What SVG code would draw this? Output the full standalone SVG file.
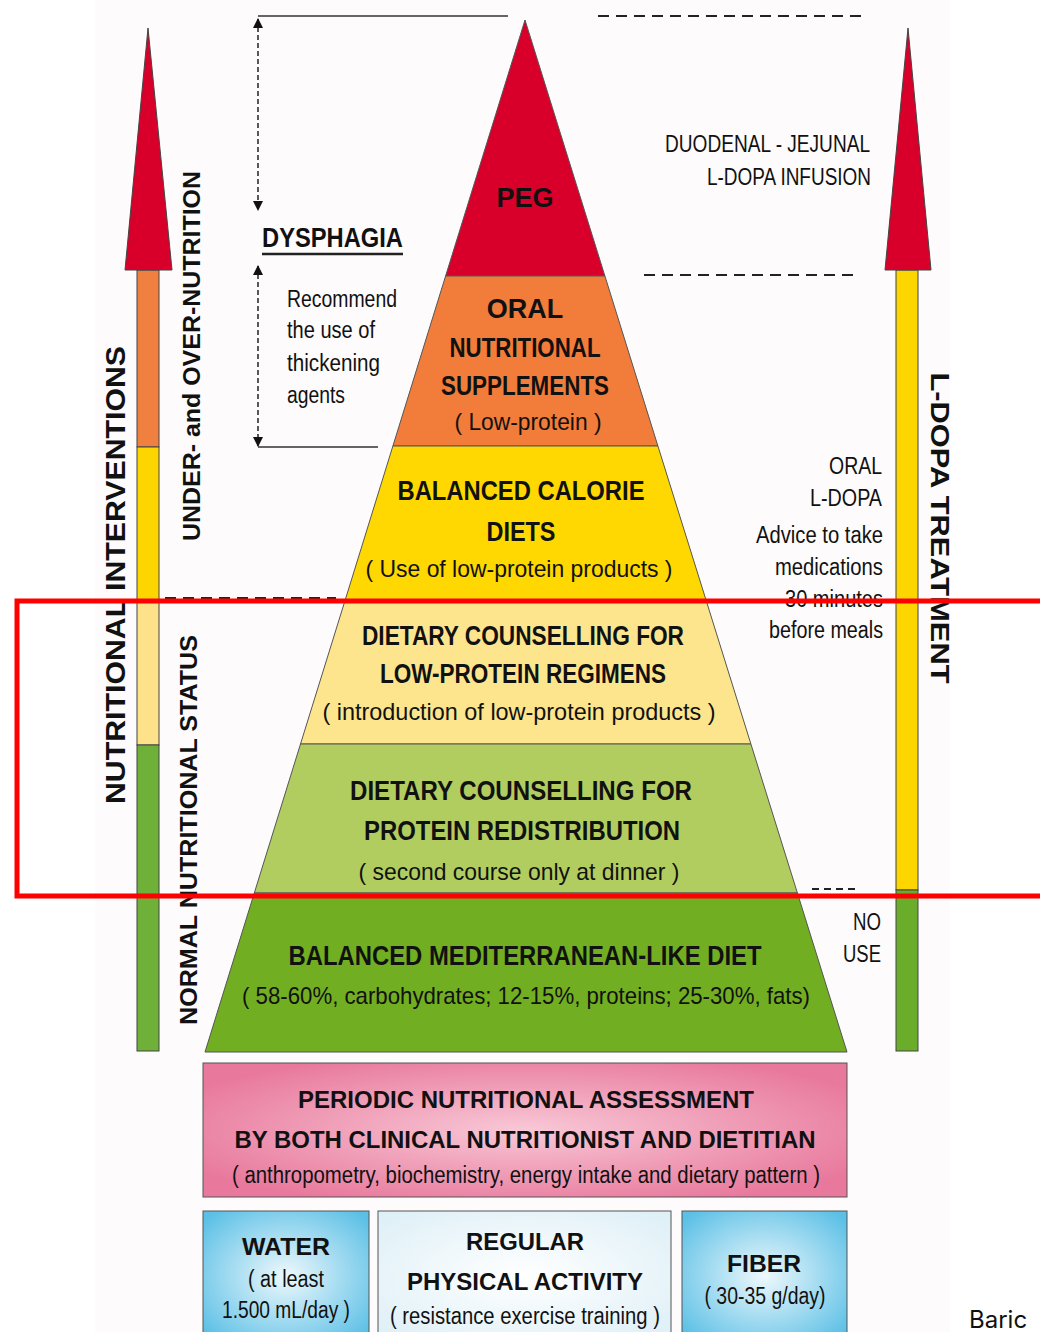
<svg xmlns="http://www.w3.org/2000/svg" width="1040" height="1332" viewBox="0 0 1040 1332">
<style>
.t{font-family:"Liberation Sans Narrow","Liberation Sans",Arial,sans-serif;fill:#111;}
.h{font-size:27px;font-weight:bold;}
.s{font-size:24px;}
.m{font-size:23px;}
.bb{font-weight:bold;}
.side{font-family:"Liberation Sans",Arial,sans-serif;font-weight:bold;fill:#111;}
.lay{stroke:#555;stroke-width:1;}
.dash{stroke:#222;stroke-width:2.2;stroke-dasharray:11 7;fill:none;}
.solid{stroke:#333;stroke-width:1.5;fill:none;}
.bar{stroke:#444;stroke-width:1;}
</style>
<defs>
<marker id="ah" viewBox="0 0 10 10" refX="9" refY="5" markerWidth="10" markerHeight="10" markerUnits="userSpaceOnUse" orient="auto-start-reverse">
<path d="M0,0 L10,5 L0,10 z" fill="#111"/>
</marker>
<radialGradient id="pink" cx="50%" cy="50%" r="60%">
<stop offset="0" stop-color="#f8c8d6"/>
<stop offset="1" stop-color="#e8789c"/>
</radialGradient>
<radialGradient id="blue" cx="50%" cy="50%" r="65%">
<stop offset="0" stop-color="#eef8fc"/>
<stop offset="1" stop-color="#5cc0e6"/>
</radialGradient>
<radialGradient id="pale" cx="50%" cy="50%" r="65%">
<stop offset="0" stop-color="#ffffff"/>
<stop offset="1" stop-color="#dff0f7"/>
</radialGradient>
</defs>
<rect x="0" y="0" width="1040" height="1332" fill="#ffffff"/>
<rect x="95" y="0" width="855" height="1332" fill="#fdfbfb"/>

<g id="left-arrow">
<rect class="bar" x="137" y="270" width="22" height="177" fill="#f08040"/>
<rect class="bar" x="137" y="447" width="22" height="153" fill="#fdd600"/>
<rect class="bar" x="137" y="600" width="22" height="145" fill="#fde28a"/>
<rect class="bar" x="137" y="745" width="22" height="306" fill="#6fb038"/>
<polygon class="bar" points="148,28 125,270 172,270" fill="#d8002a"/>
</g>
<g id="right-arrow">
<rect class="bar" x="896" y="270" width="22" height="620" fill="#fdd600"/>
<rect class="bar" x="896" y="890" width="22" height="161" fill="#6aad2a"/>
<polygon class="bar" points="908,28 885,270 931,270" fill="#d8002a"/>
</g>

<g id="side-labels">
<text class="side" font-size="28" text-anchor="middle" transform="translate(125,575) rotate(-90)" textLength="458" lengthAdjust="spacingAndGlyphs">NUTRITIONAL INTERVENTIONS</text>
<text class="side" font-size="24" text-anchor="middle" transform="translate(200,356) rotate(-90)" textLength="370" lengthAdjust="spacingAndGlyphs">UNDER- and OVER-NUTRITION</text>
<text class="side" font-size="24" text-anchor="middle" transform="translate(197,830) rotate(-90)" textLength="390" lengthAdjust="spacingAndGlyphs">NORMAL NUTRITIONAL STATUS</text>
<text class="side" font-size="26" text-anchor="middle" transform="translate(931,528) rotate(90)" textLength="311" lengthAdjust="spacingAndGlyphs">L-DOPA TREATMENT</text>
</g>

<g id="connectors">
<line class="solid" x1="258" y1="16" x2="508" y2="16"/>
<line class="solid" x1="258" y1="447" x2="378" y2="447"/>
<line x1="258" y1="19" x2="258" y2="210" stroke="#222" stroke-width="1.5" stroke-dasharray="5 3" marker-start="url(#ah)" marker-end="url(#ah)"/>
<line x1="258" y1="266" x2="258" y2="446" stroke="#222" stroke-width="1.5" stroke-dasharray="5 3" marker-start="url(#ah)" marker-end="url(#ah)"/>
<line class="dash" x1="598" y1="16" x2="866" y2="16"/>
<line class="dash" x1="644" y1="275" x2="860" y2="275"/>
<line class="dash" x1="165" y1="598" x2="336" y2="598"/>
<line x1="812" y1="889" x2="856" y2="889" stroke="#222" stroke-width="2.2" stroke-dasharray="7 5"/>
</g>

<g id="layer-peg">
<polygon class="lay" points="525,20 445.6,276 604.9,276" fill="#d8002a"/>
<text class="t h" x="525" y="207" text-anchor="middle">PEG</text>
</g>
<g id="layer-oral">
<polygon class="lay" points="445.6,276 604.9,276 657.9,446 392.9,446" fill="#f27c3a"/>
<text class="t h" x="525" y="318" text-anchor="middle">ORAL</text>
<text class="t h" x="525" y="357" text-anchor="middle" textLength="151" lengthAdjust="spacingAndGlyphs">NUTRITIONAL</text>
<text class="t h" x="525" y="395" text-anchor="middle" textLength="168" lengthAdjust="spacingAndGlyphs">SUPPLEMENTS</text>
<text class="t s" x="528" y="430" text-anchor="middle" textLength="147" lengthAdjust="spacingAndGlyphs">( Low-protein )</text>
</g>
<g id="layer-balanced">
<polygon class="lay" points="392.9,446 657.9,446 706,600 345.2,600" fill="#fed800"/>
<text class="t h" x="521" y="500" text-anchor="middle" textLength="247" lengthAdjust="spacingAndGlyphs">BALANCED CALORIE</text>
<text class="t h" x="521" y="541" text-anchor="middle" textLength="69" lengthAdjust="spacingAndGlyphs">DIETS</text>
<text class="t s" x="519" y="577" text-anchor="middle" textLength="307" lengthAdjust="spacingAndGlyphs">( Use of low-protein products )</text>
</g>
<g id="layer-lowprotein">
<polygon class="lay" points="345.2,600 706,600 750.9,744 300.5,744" fill="#fde58d"/>
<text class="t h" x="523" y="645" text-anchor="middle" textLength="322" lengthAdjust="spacingAndGlyphs">DIETARY COUNSELLING FOR</text>
<text class="t h" x="523" y="683" text-anchor="middle" textLength="286" lengthAdjust="spacingAndGlyphs">LOW-PROTEIN REGIMENS</text>
<text class="t s" x="519" y="720" text-anchor="middle" textLength="393" lengthAdjust="spacingAndGlyphs">( introduction of low-protein products )</text>
</g>
<g id="layer-redistribution">
<polygon class="lay" points="300.5,744 750.9,744 797.4,893 254.3,893" fill="#b2cd5f"/>
<text class="t h" x="521" y="800" text-anchor="middle" textLength="342" lengthAdjust="spacingAndGlyphs">DIETARY COUNSELLING FOR</text>
<text class="t h" x="522" y="840" text-anchor="middle" textLength="316" lengthAdjust="spacingAndGlyphs">PROTEIN REDISTRIBUTION</text>
<text class="t s" x="519" y="880" text-anchor="middle" textLength="321" lengthAdjust="spacingAndGlyphs">( second course only at dinner )</text>
</g>
<g id="layer-mediterranean">
<polygon class="lay" points="254.3,893 797.4,893 847,1052 205,1052" fill="#72ae21"/>
<text class="t h" x="525" y="965" text-anchor="middle" textLength="473" lengthAdjust="spacingAndGlyphs">BALANCED MEDITERRANEAN-LIKE DIET</text>
<text class="t s" x="526" y="1004" text-anchor="middle" textLength="568" lengthAdjust="spacingAndGlyphs">( 58-60%, carbohydrates; 12-15%, proteins; 25-30%, fats)</text>
</g>

<g id="assessment">
<rect x="203" y="1063" width="644" height="134" fill="url(#pink)" stroke="#555" stroke-width="1"/>
<text class="t s bb" x="526" y="1108" text-anchor="middle" textLength="456" lengthAdjust="spacingAndGlyphs">PERIODIC NUTRITIONAL ASSESSMENT</text>
<text class="t s bb" x="525" y="1148" text-anchor="middle" textLength="581" lengthAdjust="spacingAndGlyphs">BY BOTH CLINICAL NUTRITIONIST AND DIETITIAN</text>
<text class="t m" x="526" y="1183" text-anchor="middle" textLength="588" lengthAdjust="spacingAndGlyphs">( anthropometry, biochemistry, energy intake and dietary pattern )</text>
</g>
<g id="water">
<rect x="203" y="1211" width="166" height="130" fill="url(#blue)" stroke="#555" stroke-width="1"/>
<text class="t s bb" x="286" y="1255" text-anchor="middle" textLength="88" lengthAdjust="spacingAndGlyphs">WATER</text>
<text class="t m" x="286" y="1287" text-anchor="middle" textLength="76" lengthAdjust="spacingAndGlyphs">( at least</text>
<text class="t m" x="286" y="1318" text-anchor="middle" textLength="128" lengthAdjust="spacingAndGlyphs">1.500 mL/day )</text>
</g>
<g id="activity">
<rect x="378" y="1211" width="293" height="130" fill="url(#pale)" stroke="#555" stroke-width="1"/>
<text class="t s bb" x="525" y="1250" text-anchor="middle" textLength="118" lengthAdjust="spacingAndGlyphs">REGULAR</text>
<text class="t s bb" x="525" y="1290" text-anchor="middle" textLength="236" lengthAdjust="spacingAndGlyphs">PHYSICAL ACTIVITY</text>
<text class="t m" x="525" y="1324" text-anchor="middle" textLength="270" lengthAdjust="spacingAndGlyphs">( resistance exercise training )</text>
</g>
<g id="fiber">
<rect x="682" y="1211" width="165" height="130" fill="url(#blue)" stroke="#555" stroke-width="1"/>
<text class="t s bb" x="764" y="1272" text-anchor="middle" textLength="74" lengthAdjust="spacingAndGlyphs">FIBER</text>
<text class="t m" x="765" y="1304" text-anchor="middle" textLength="121" lengthAdjust="spacingAndGlyphs">( 30-35 g/day)</text>
</g>

<g id="dysphagia">
<text class="t" font-size="27" font-weight="bold" x="262" y="247" textLength="141" lengthAdjust="spacingAndGlyphs">DYSPHAGIA</text>
<line x1="262" y1="254" x2="403" y2="254" stroke="#222" stroke-width="2.5"/>
</g>
<g id="thickening-note">
<text class="t m" x="287" y="307" textLength="110" lengthAdjust="spacingAndGlyphs">Recommend</text>
<text class="t m" x="287" y="338" textLength="88" lengthAdjust="spacingAndGlyphs">the use of</text>
<text class="t m" x="287" y="371" textLength="93" lengthAdjust="spacingAndGlyphs">thickening</text>
<text class="t m" x="287" y="403" textLength="58" lengthAdjust="spacingAndGlyphs">agents</text>
</g>
<g id="infusion">
<text class="t s" x="870" y="152" text-anchor="end" textLength="205" lengthAdjust="spacingAndGlyphs">DUODENAL - JEJUNAL</text>
<text class="t s" x="871" y="185" text-anchor="end" textLength="164" lengthAdjust="spacingAndGlyphs">L-DOPA INFUSION</text>
</g>
<g id="oral-ldopa">
<text class="t m" x="882" y="474" text-anchor="end" textLength="53" lengthAdjust="spacingAndGlyphs">ORAL</text>
<text class="t m" x="882" y="506" text-anchor="end" textLength="72" lengthAdjust="spacingAndGlyphs">L-DOPA</text>
<text class="t m" x="883" y="543" text-anchor="end" textLength="127" lengthAdjust="spacingAndGlyphs">Advice to take</text>
<text class="t m" x="883" y="575" text-anchor="end" textLength="108" lengthAdjust="spacingAndGlyphs">medications</text>
<text class="t m" x="883" y="607" text-anchor="end" textLength="98" lengthAdjust="spacingAndGlyphs">30 minutes</text>
<text class="t m" x="883" y="638" text-anchor="end" textLength="114" lengthAdjust="spacingAndGlyphs">before meals</text>
</g>
<g id="no-use">
<text class="t m" x="881" y="930" text-anchor="end" textLength="28" lengthAdjust="spacingAndGlyphs">NO</text>
<text class="t m" x="881" y="962" text-anchor="end" textLength="38" lengthAdjust="spacingAndGlyphs">USE</text>
</g>

<rect id="highlight" x="17" y="601" width="1035" height="295" fill="none" stroke="#ff0000" stroke-width="5"/>
<text x="969" y="1328" font-family="Inter,Roboto,sans-serif" font-size="24" fill="#111">Baric</text>
</svg>
